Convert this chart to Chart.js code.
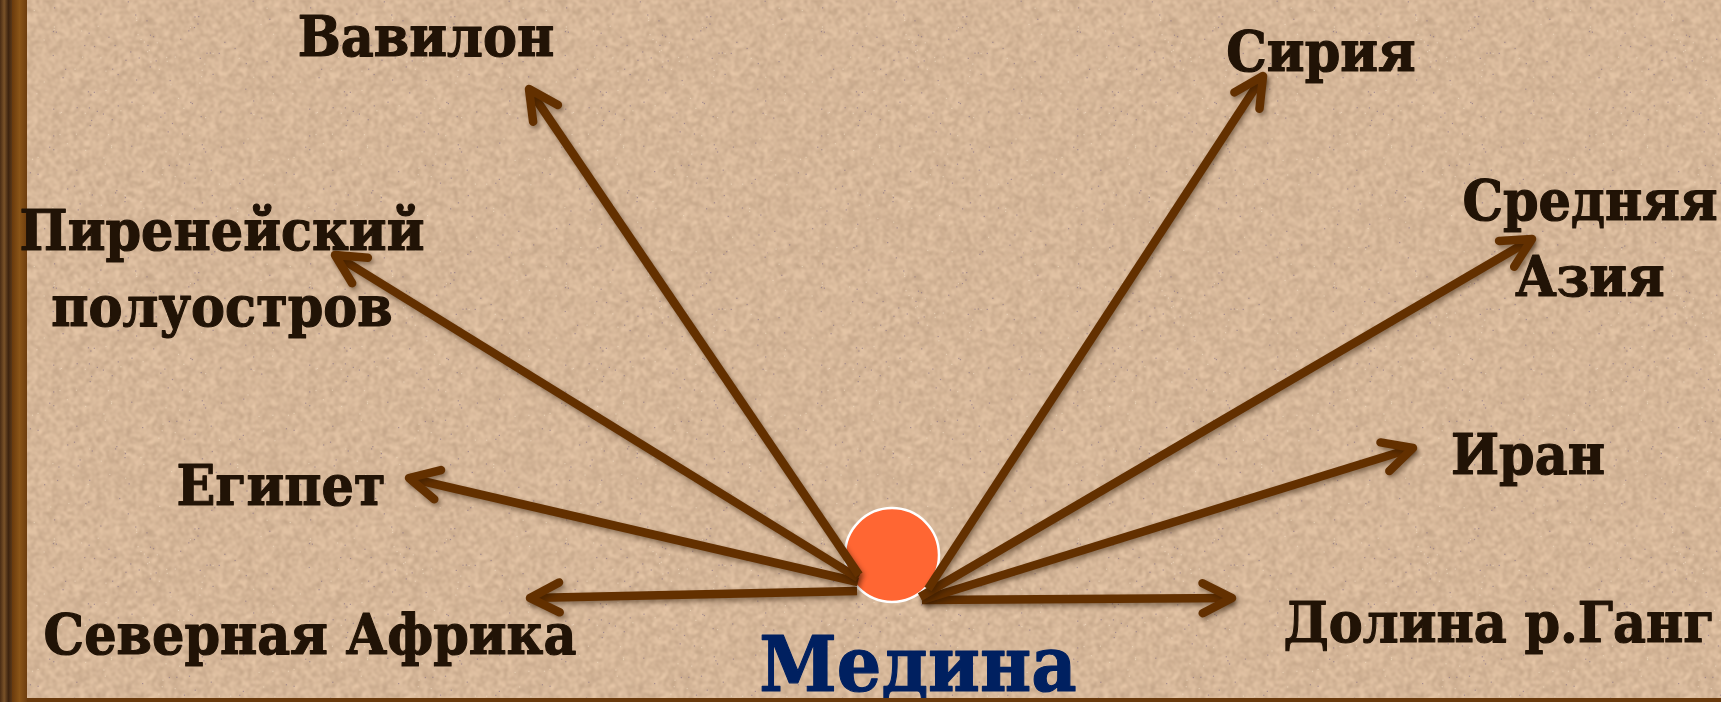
<!DOCTYPE html>
<html>
<head>
<meta charset="utf-8">
<script src="https://cdn.jsdelivr.net/npm/chart.js@4/dist/chart.umd.min.js"></script>
<style>
html,body{margin:0;padding:0;background:#d5b698;overflow:hidden;}
#c{display:block;}
</style>
</head>
<body>
<canvas id="c" width="1721" height="702"></canvas>
<script>
// ---- data ----
const destinations = ['Вавилон', 'Пиренейский полуостров', 'Египет', 'Северная Африка', 'Сирия', 'Средняя Азия', 'Иран', 'Долина р.Ганг'];
const labelLines = [['Вавилон'], ['Пиренейский', 'полуостров'], ['Египет'], ['Северная Африка'], ['Сирия'], ['Средняя', 'Азия'], ['Иран'], ['Долина р.Ганг']];
const startX = [859, 858, 858, 857, 928, 920, 922, 922];
const startY = [575, 578, 582, 591, 589, 597, 600, 600];
const tipX = [529, 335, 409, 530, 1263, 1532, 1413, 1232];
const tipY = [89, 255, 478, 598, 76, 239, 448, 598];
const labelX = [426, 222, 281, 310, 1321, 1590, 1528, 1499];
const labelY = [56, 250, 505, 654, 71, 220, 474, 642];
const centerName = 'Медина';
const centerX = [892];
const centerY = [555];
const centerLabelX = 918;
const centerLabelY = 691;

// ---- styles ----
const ARROW_COLOR = '#633000';
const TEXT_COLOR = '#211306';
const CENTER_TEXT_COLOR = '#002060';
const FONT = 'bold 56px "DejaVu Serif", "Liberation Serif", serif';
const CENTER_FONT = 'bold 77px "DejaVu Serif", "Liberation Serif", serif';
const SQUEEZE = 0.91;
const LINE_H = 76;

// deterministic sand texture (decoration only)
function makeTexture() {
  const n = 128;
  const c = document.createElement('canvas');
  c.width = n; c.height = n;
  const g = c.getContext('2d');
  const img = g.createImageData(n, n);
  let s = 98765;
  function rnd() { s = (s * 1103515245 + 12345) & 0x7fffffff; return s / 0x7fffffff; }
  for (let i = 0; i < n * n; i++) {
    const v = rnd();
    let r = 214, gg = 183, b = 153;
    const d = (v - 0.5) * 46;
    r += d; gg += d * 0.97; b += d * 0.9;
    img.data[i * 4] = r; img.data[i * 4 + 1] = gg; img.data[i * 4 + 2] = b; img.data[i * 4 + 3] = 255;
  }
  g.putImageData(img, 0, 0);
  const m = n * 2;
  const c2 = document.createElement('canvas');
  c2.width = m; c2.height = m;
  const g2 = c2.getContext('2d');
  g2.imageSmoothingEnabled = true;
  g2.filter = 'blur(0.9px)';
  for (let dx = -1; dx <= 1; dx++) for (let dy = -1; dy <= 1; dy++) g2.drawImage(c, dx * m, dy * m, m, m);
  g2.filter = 'none';
  // fine violet specks
  for (let k = 0; k < 220; k++) {
    const x = rnd() * m, y = rnd() * m;
    g2.fillStyle = rnd() > 0.5 ? 'rgba(120,100,130,0.55)' : 'rgba(245,225,200,0.6)';
    g2.fillRect(x, y, 1.2, 1.2);
  }
  return c2;
}
const texture = makeTexture();

const bgPlugin = {
  id: 'bg',
  beforeDraw(chart) {
    const ctx = chart.ctx;
    ctx.save();
    ctx.fillStyle = ctx.createPattern(texture, 'repeat');
    ctx.fillRect(0, 0, chart.width, chart.height);
    // left wooden frame
    const wood = ctx.createLinearGradient(0, 0, 12, 0);
    wood.addColorStop(0, '#4a2c14');
    wood.addColorStop(0.35, '#7a5228');
    wood.addColorStop(0.7, '#3e2410');
    wood.addColorStop(1, '#5a3818');
    ctx.fillStyle = wood;
    ctx.fillRect(0, 0, 12, chart.height);
    const band = ctx.createLinearGradient(12, 0, 27, 0);
    band.addColorStop(0, '#6a3a0c');
    band.addColorStop(0.5, '#8a5518');
    band.addColorStop(1, '#6e3d0e');
    ctx.fillStyle = band;
    ctx.fillRect(12, 0, 15, chart.height);
    ctx.restore();
  }
};

const arrowPlugin = {
  id: 'arrows',
  beforeDatasetDraw(chart, args) {
    if (chart.data.datasets[args.index].isArrow) {
      const ctx = chart.ctx;
      ctx.save();
      ctx.shadowColor = 'rgba(40,20,0,0.45)';
      ctx.shadowBlur = 5;
      ctx.shadowOffsetX = 2;
      ctx.shadowOffsetY = 3;
    }
  },
  afterDatasetDraw(chart, args) {
    const ds = chart.data.datasets[args.index];
    if (!ds.isArrow) return;
    const ctx = chart.ctx;
    const pts = args.meta.data;
    const a = pts[0], b = pts[1];
    const ang = Math.atan2(a.y - b.y, a.x - b.x);
    const L = 33, spread = 27 * Math.PI / 180;
    ctx.strokeStyle = ARROW_COLOR;
    ctx.lineWidth = 8.5;
    ctx.lineCap = 'round';
    ctx.lineJoin = 'round';
    ctx.beginPath();
    ctx.moveTo(b.x + L * Math.cos(ang + spread), b.y + L * Math.sin(ang + spread));
    ctx.lineTo(b.x, b.y);
    ctx.lineTo(b.x + L * Math.cos(ang - spread), b.y + L * Math.sin(ang - spread));
    ctx.stroke();
    ctx.restore();
  }
};

function squeezedText(ctx, t, x, y) {
  ctx.save();
  ctx.translate(x, y);
  ctx.scale(SQUEEZE, 1);
  ctx.fillText(t, 0, 0);
  ctx.strokeText(t, 0, 0);
  ctx.restore();
}

const textPlugin = {
  id: 'texts',
  afterDraw(chart) {
    const ctx = chart.ctx;
    const xs = chart.scales.x, ys = chart.scales.y;
    ctx.save();
    ctx.textAlign = 'center';
    ctx.textBaseline = 'alphabetic';
    ctx.lineJoin = 'round';
    ctx.lineWidth = 1.2;
    ctx.font = FONT;
    ctx.fillStyle = TEXT_COLOR;
    ctx.strokeStyle = TEXT_COLOR;
    labelLines.forEach((lines, i) => {
      lines.forEach((t, j) => {
        squeezedText(ctx, t, xs.getPixelForValue(labelX[i]), ys.getPixelForValue(labelY[i]) + j * LINE_H);
      });
    });
    ctx.font = CENTER_FONT;
    ctx.fillStyle = CENTER_TEXT_COLOR;
    ctx.strokeStyle = CENTER_TEXT_COLOR;
    squeezedText(ctx, centerName, xs.getPixelForValue(centerLabelX), ys.getPixelForValue(centerLabelY));
    // bottom frame line
    ctx.fillStyle = '#6a3a0c';
    ctx.fillRect(27, chart.height - 4, chart.width, 4);
    ctx.restore();
  }
};

const datasets = destinations.map((name, i) => ({
  label: name,
  isArrow: true,
  data: [{ x: startX[i], y: startY[i] }, { x: tipX[i], y: tipY[i] }],
  showLine: true,
  borderColor: ARROW_COLOR,
  backgroundColor: ARROW_COLOR,
  borderWidth: 8.5,
  borderCapStyle: 'butt',
  pointRadius: 0,
  pointHoverRadius: 0,
  clip: false,
  order: 1
}));
datasets.push({
  label: centerName,
  data: centerX.map((x, i) => ({ x: x, y: centerY[i] })),
  showLine: false,
  pointRadius: 47,
  pointHoverRadius: 47,
  backgroundColor: '#ff6633',
  borderColor: '#ffffff',
  borderWidth: 2.5,
  clip: false,
  order: 10
});

new Chart(document.getElementById('c'), {
  type: 'scatter',
  data: { datasets: datasets },
  options: {
    responsive: false,
    animation: false,
    events: [],
    layout: { padding: 0, autoPadding: false },
    plugins: { legend: { display: false }, tooltip: { enabled: false }, title: { display: false } },
    scales: {
      x: { type: 'linear', min: 0, max: 1721, display: false },
      y: { type: 'linear', min: 0, max: 702, reverse: true, display: false }
    }
  },
  plugins: [bgPlugin, arrowPlugin, textPlugin]
});
</script>
</body>
</html>
